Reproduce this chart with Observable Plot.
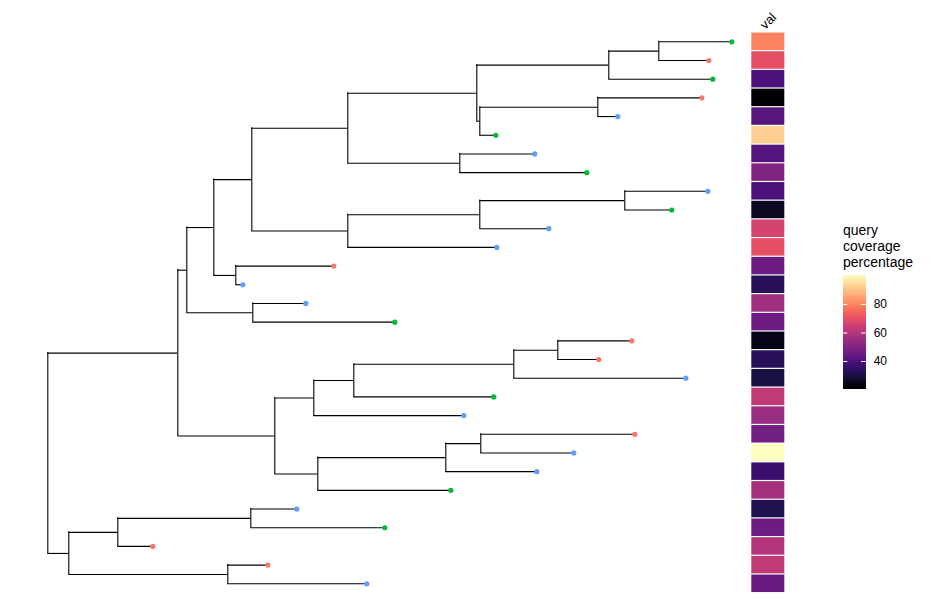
<!DOCTYPE html>
<html>
<head>
<meta charset="utf-8">
<script src="https://cdn.jsdelivr.net/npm/d3@7"></script>
<script src="https://cdn.jsdelivr.net/npm/@observablehq/plot@0.6"></script>
<style>
  html, body { margin: 0; padding: 0; background: #fff; }
  #wrap { position: relative; width: 931px; height: 615px; font-family: "Liberation Sans", Arial, sans-serif; }
  #wrap svg { position: absolute; }
  #legtitle { position: absolute; z-index: 5; left: 843px; top: 222px; font-size: 14px; line-height: 16px; color: #000; }
</style>
</head>
<body>
<div id="wrap">
  <div id="legtitle">query<br>coverage<br>percentage</div>
</div>
<script>
// ---- Tree structure (preorder, children listed top to bottom) ----
const nodeId = ["root","n1","n2","n3","n4","n5","n6","n7","n8","t1","t2","t3","n9","n10","t4","t5","t6","n11","t7","t8","n12","n13","n14","t9","t10","t11","t12","n15","t13","t14","n16","t15","t16","n17","n18","n19","n20","n21","t17","t18","t19","t20","t21","n22","n23","n24","t22","t23","t24","t25","n25","n26","n27","t26","t27","t28","n28","t29","t30"];
const nodeParent = ["","root","n1","n2","n3","n4","n5","n6","n7","n8","n8","n7","n6","n9","n10","n10","n9","n5","n11","n11","n4","n12","n13","n14","n14","n13","n12","n3","n15","n15","n2","n16","n16","n1","n17","n18","n19","n20","n21","n21","n20","n19","n18","n17","n22","n23","n24","n24","n23","n22","root","n25","n26","n27","n27","n26","n25","n28","n28"];
const branchLength = [0,1.30,0.09,0.27,0.38,0.96,1.29,1.32,0.50,0.73,0.50,1.04,0.03,1.18,1.04,0.20,0.16,1.12,0.75,1.27,0.96,1.32,1.45,0.83,0.47,0.69,1.49,0.22,0.98,0.07,0.66,0.53,1.42,0.97,0.39,0.40,1.60,0.44,0.74,0.41,1.72,1.40,1.50,0.43,1.28,0.35,1.54,0.93,0.91,1.33,0.21,0.49,1.33,0.46,1.34,0.35,1.59,0.40,1.39];

// ---- Tip annotations ----
const tipId = ["t1","t2","t3","t4","t5","t6","t7","t8","t9","t10","t11","t12","t13","t14","t15","t16","t17","t18","t19","t20","t21","t22","t23","t24","t25","t26","t27","t28","t29","t30"];
const tipGroup = ["B","A","B","A","C","B","C","B","C","B","C","C","A","C","C","B","A","A","C","B","C","A","C","C","B","C","B","A","A","C"];
const coverage = [79.5,70,39.6,20.4,42,92.3,41,50,39.6,26,66,70,46,33,56,46,23.6,33,30,62,55,47,100.3,36.4,57,31.6,46,59.5,62,45];
const coverageRange = [20.4, 100.3];
const legendTicks = [40, 60, 80];
const groupNames = ["A","B","C"];
const groupColors = ["#F8766D","#00BA38","#619CFF"];

// ---- Layout via d3.hierarchy ----
const table = nodeId.map((id, i) => ({id, parent: nodeParent[i] || null, len: branchLength[i]}));
const root = d3.stratify().id(d => d.id).parentId(d => d.parent)(table);
root.eachBefore(n => { n.dx = (n.parent ? n.parent.dx : 0) + n.data.len; });
root.leaves().forEach((n, i) => { n.py = i + 1; });
root.eachAfter(n => { if (n.children) n.py = (n.children[0].py + n.children[n.children.length - 1].py) / 2; });

const nodes = root.descendants();
const hEdges = nodes.filter(n => n.parent).map(n => ({x1: n.parent.dx, x2: n.dx, y: n.py}));
const vEdges = nodes.filter(n => n.children).map(n => ({x: n.dx, y1: n.children[0].py, y2: n.children[n.children.length - 1].py}));
const tipIndex = new Map(tipId.map((t, i) => [t, i]));
const tips = root.leaves().map(n => {
  const i = tipIndex.get(n.id);
  return {id: n.id, x: n.dx, y: n.py, group: tipGroup[i], cov: coverage[i]};
});
const colorOf = new Map(groupNames.map((g, i) => [g, groupColors[i]]));

const maxDepth = d3.max(tips, d => d.x);
const hmX1 = 7.04, hmX2 = 7.37;

const main = Plot.plot({
  width: 931,
  height: 615,
  x: {domain: [0, maxDepth], range: [47.3, 47.3 + maxDepth * 100], axis: null},
  y: {domain: [1, tips.length], range: [41.3, 583.3], axis: null},
  color: {type: "linear", scheme: "magma", domain: coverageRange},
  style: {fontFamily: "Liberation Sans, Arial, sans-serif", background: "white"},
  marks: [
    Plot.ruleY(hEdges, {x1: "x1", x2: "x2", y: "y", stroke: "black", strokeWidth: 1.1}),
    Plot.ruleX(vEdges, {x: "x", y1: "y1", y2: "y2", stroke: "black", strokeWidth: 1.1, strokeLinecap: "square"}),
    Plot.dot(tips, {x: "x", y: "y", r: 2.6, fill: d => colorOf.get(d.group), stroke: null}),
    Plot.rect(tips, {x1: hmX1, x2: hmX2, y1: d => d.y - 0.5, y2: d => d.y + 0.5, fill: "cov", insetTop: 0.6, insetBottom: 0.6}),
    Plot.text(["val"], {x: (hmX1 + hmX2) / 2, y: 0, dy: -2, text: d => d, rotate: -45, fontSize: 13, fill: "black", textAnchor: "middle"})
  ]
});
main.style.left = "0px";
main.style.top = "0px";
document.getElementById("wrap").appendChild(main);

// ---- Colour bar legend ----
const steps = 80;
const stepSize = (coverageRange[1] - coverageRange[0]) / steps;
const ramp = d3.range(steps).map(i => coverageRange[0] + i * stepSize);
const legend = Plot.plot({
  width: 80,
  height: 125,
  x: {domain: [0, 1], range: [12.7, 35.7], axis: null},
  y: {domain: coverageRange, range: [119, 5], axis: null},
  color: {type: "linear", scheme: "magma", domain: coverageRange},
  style: {fontFamily: "Liberation Sans, Arial, sans-serif", background: "transparent", overflow: "visible"},
  marks: [
    Plot.rect(ramp, {x1: 0, x2: 1, y1: d => d, y2: d => Math.min(d + stepSize * 2, coverageRange[1]), fill: d => d + stepSize / 2, shapeRendering: "crispEdges"}),
    Plot.ruleY(legendTicks, {x1: 0, x2: 0.2, stroke: "white", strokeWidth: 1}),
    Plot.ruleY(legendTicks, {x1: 0.8, x2: 1, stroke: "white", strokeWidth: 1}),
    Plot.text(legendTicks, {x: 1, y: d => d, text: d => String(d), dx: 7.5, textAnchor: "start", fontSize: 12, fill: "black"})
  ]
});
legend.style.left = "830px";
legend.style.top = "270px";
document.getElementById("wrap").appendChild(legend);
</script>
</body>
</html>
